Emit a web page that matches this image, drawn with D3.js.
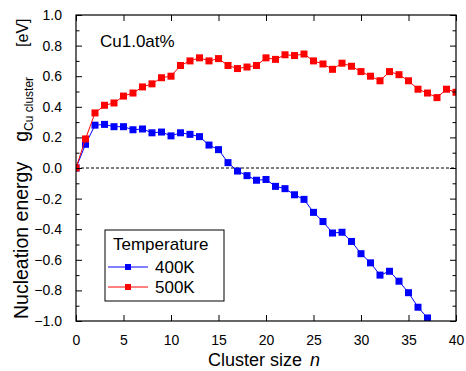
<!DOCTYPE html>
<html>
<head>
<meta charset="utf-8">
<script src="https://cdn.jsdelivr.net/npm/d3@7"></script>
<style>
  body { margin: 0; background: #fff; }
  text { font-family: "Liberation Sans", Arial, sans-serif; fill: #000; }
</style>
</head>
<body>
<div id="chart"></div>
<script>
// cluster size n = 0..40
const sizes = d3.range(0, 41);
const e400 = [0, 0.155, 0.28, 0.285, 0.27, 0.27, 0.25, 0.255, 0.23, 0.235, 0.21,
  0.23, 0.22, 0.205, 0.15, 0.12, 0.035, -0.02, -0.05, -0.08, -0.075,
  -0.12, -0.135, -0.175, -0.205, -0.29, -0.35, -0.425, -0.42, -0.48, -0.56,
  -0.62, -0.70, -0.675, -0.74, -0.815, -0.91, -0.98, -1.06, -1.03, -1.1];
const e500 = [0, 0.19, 0.36, 0.41, 0.425, 0.47, 0.49, 0.53, 0.55, 0.59, 0.60,
  0.67, 0.70, 0.72, 0.70, 0.715, 0.67, 0.65, 0.66, 0.67, 0.72,
  0.71, 0.74, 0.735, 0.745, 0.70, 0.68, 0.645, 0.685, 0.665, 0.63,
  0.60, 0.57, 0.63, 0.61, 0.57, 0.515, 0.49, 0.46, 0.515, 0.495];
const seriesNames = ['400K', '500K'];
const seriesColors = ['#0000ff', '#ff0000'];
const xTicks = [0, 5, 10, 15, 20, 25, 30, 35, 40];
const yTicks = [-1.0, -0.8, -0.6, -0.4, -0.2, 0.0, 0.2, 0.4, 0.6, 0.8, 1.0];

const width = 466, height = 371;
const margin = {top: 15, right: 10, bottom: 50, left: 76};
const w = width - margin.left - margin.right;
const h = height - margin.top - margin.bottom;

const svg = d3.select('#chart').append('svg')
  .attr('width', width).attr('height', height);

const g = svg.append('g')
  .attr('transform', 'translate(' + margin.left + ',' + margin.top + ')');

const x = d3.scaleLinear().domain([0, 40]).range([0, w]);
const y = d3.scaleLinear().domain([-1, 1]).range([h, 0]);

svg.append('defs').append('clipPath').attr('id', 'clip')
  .append('rect').attr('width', w).attr('height', h);

// zero line
g.append('line')
  .attr('x1', 0).attr('x2', w)
  .attr('y1', y(0)).attr('y2', y(0))
  .attr('stroke', '#000').attr('stroke-width', 1)
  .attr('stroke-dasharray', '3,2');

// data
const plot = g.append('g').attr('clip-path', 'url(#clip)');
[e400, e500].forEach((vals, i) => {
  const pts = sizes.map((n, k) => [n, vals[k]]);
  plot.append('path')
    .attr('d', d3.line().x(d => x(d[0])).y(d => y(d[1]))(pts))
    .attr('fill', 'none')
    .attr('stroke', seriesColors[i])
    .attr('stroke-width', 1);
  plot.selectAll('.m' + i)
    .data(pts)
    .enter()
    .append('rect')
    .attr('x', d => x(d[0]) - 3.5)
    .attr('y', d => y(d[1]) - 3.5)
    .attr('width', 7).attr('height', 7)
    .attr('fill', seriesColors[i]);
});

// axes, ticks inside on all four sides
const minorY = d3.range(-0.9, 1.0, 0.2);
const axisStyle = sel => {
  sel.select('.domain').remove();
  sel.selectAll('.tick line').attr('stroke', '#000');
};
g.append('g').attr('transform', 'translate(0,' + h + ')')
  .call(d3.axisBottom(x).tickValues(xTicks).tickSizeInner(-6).tickSizeOuter(0).tickPadding(14))
  .call(axisStyle)
  .call(s => s.selectAll('text').attr('font-size', 14).attr('font-family', null));
g.append('g')
  .call(d3.axisTop(x).tickValues(xTicks).tickSizeInner(-6).tickSizeOuter(0).tickFormat(''))
  .call(axisStyle);
g.append('g')
  .call(d3.axisLeft(y).tickValues(yTicks).tickSizeInner(-6).tickSizeOuter(0).tickPadding(14)
    .tickFormat(d3.format('.1f')))
  .call(axisStyle)
  .call(s => s.selectAll('text').attr('font-size', 14).attr('font-family', null));
g.append('g')
  .call(d3.axisLeft(y).tickValues(minorY).tickSizeInner(-3.5).tickSizeOuter(0).tickFormat(''))
  .call(axisStyle);
g.append('g').attr('transform', 'translate(' + w + ',0)')
  .call(d3.axisRight(y).tickValues(yTicks).tickSizeInner(-6).tickSizeOuter(0).tickFormat(''))
  .call(axisStyle);
g.append('g').attr('transform', 'translate(' + w + ',0)')
  .call(d3.axisRight(y).tickValues(minorY).tickSizeInner(-3.5).tickSizeOuter(0).tickFormat(''))
  .call(axisStyle);

// frame
g.append('rect')
  .attr('width', w).attr('height', h)
  .attr('fill', 'none').attr('stroke', '#000').attr('stroke-width', 1.2);

// axis titles
const xt = svg.append('text')
  .attr('x', 208).attr('y', 366)
  .attr('font-size', 18);
xt.append('tspan').text('Cluster size');
xt.append('tspan').attr('dx', 8).attr('font-style', 'italic').text('n');

const yt = svg.append('text')
  .attr('transform', 'translate(28,319) rotate(-90)')
  .attr('font-size', 19.5);
yt.append('tspan').text('Nucleation energy');
yt.append('tspan').attr('dx', 20).text('g');
yt.append('tspan').attr('font-size', 12).attr('dy', 5).text('Cu cluster');
yt.append('tspan').attr('dx', 30).attr('dy', -5).attr('font-size', 16).text('[eV]');

// label
svg.append('text').attr('x', 100).attr('y', 47)
  .attr('font-size', 17).text('Cu1.0at%');

// legend
const lg = svg.append('g').attr('transform', 'translate(105,230)');
lg.append('rect').attr('width', 119).attr('height', 71)
  .attr('fill', '#fff').attr('stroke', '#000').attr('stroke-width', 1);
lg.append('text').attr('x', 8).attr('y', 20).attr('font-size', 17).text('Temperature');
seriesNames.forEach((name, i) => {
  const yy = 37 + i * 20;
  lg.append('line').attr('x1', 3).attr('x2', 43).attr('y1', yy).attr('y2', yy)
    .attr('stroke', seriesColors[i]).attr('stroke-width', 1);
  lg.append('rect').attr('x', 20).attr('y', yy - 3).attr('width', 6).attr('height', 6)
    .attr('fill', seriesColors[i]);
  lg.append('text').attr('x', 50).attr('y', yy + 6).attr('font-size', 17).text(name);
});
</script>
</body>
</html>
